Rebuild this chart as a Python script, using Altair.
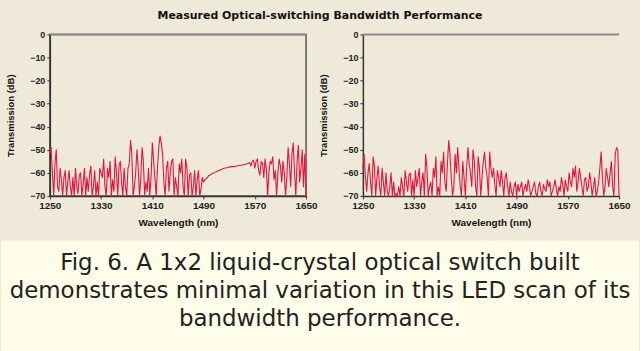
import altair as alt
import pandas as pd

wavelength = list(range(1250, 1651, 2))

left_db = [-52, -49, -60, -70, -56, -50, -66, -68, -58, -63, -70, -62, -59, -70, -64, -59, -66, -70, -62, -70, -58,
           -66, -69, -61, -60, -70, -65, -58, -70, -62, -68, -61, -57, -70, -66, -59, -70, -64, -70, -58, -60,
           -62, -54, -66, -70, -58, -62, -55, -70, -63, -68, -53, -60, -70, -57, -55, -64, -70, -58, -66, -70,
           -58, -56, -46, -52, -70, -66, -60, -50, -58, -70, -62, -49, -55, -70, -64, -68, -58, -70, -62, -47,
           -55, -62, -70, -58, -49, -44, -47, -52, -64, -70, -58, -55, -68, -60, -55, -54, -70, -62, -66, -70,
           -56, -60, -54, -66, -70, -54, -58, -70, -61, -60, -70, -66, -59, -70, -63, -59, -70, -67, -62, -64,
           -63, -62.5, -62, -61.2, -61, -60.5, -60.3, -60, -59.6, -59.5, -59.2, -58.9, -58.8, -58.5, -58.2, -58, -57.9, -57.8, -57.6, -57.5,
           -57.4, -57.3, -57.3, -57.2, -57.1, -57, -56.9, -56.8, -56.8, -56.6, -56.5, -56.4, -56.3, -56, -55.8, -55.5, -57, -55, -54.5, -58,
           -55, -54, -59, -61, -55, -56, -62, -54, -58, -70, -60, -55, -56, -53, -63, -59, -70, -60, -54, -57,
           -64, -55, -60, -70, -62, -49, -56, -66, -52, -47, -60, -70, -55, -48, -64, -58, -50, -66, -52, -70]

right_db = [-58, -52, -62, -68, -60, -56, -64, -70, -53, -57, -70, -62, -57, -66, -70, -58, -64, -70, -60, -68, -70,
            -66, -60, -70, -64, -70, -69, -70, -66, -70, -62, -66, -70, -59, -64, -68, -61, -60, -70, -63, -70,
            -59, -66, -62, -58, -70, -64, -60, -70, -52, -58, -70, -66, -64, -70, -58, -62, -53, -70, -66, -70,
            -55, -60, -51, -64, -68, -56, -46, -52, -62, -70, -66, -52, -60, -49, -58, -66, -70, -55, -62, -70,
            -58, -49, -56, -60, -66, -50, -55, -66, -70, -53, -58, -70, -62, -55, -51, -58, -62, -70, -51, -58,
            -62, -58, -65, -70, -59, -62, -66, -59, -64, -70, -62, -60, -66, -70, -64, -68, -70, -66, -64, -70,
            -65, -68, -66, -64, -70, -67, -65, -68, -63, -66, -70, -68, -66, -64, -69, -70, -66, -64, -68, -70,
            -65, -67, -68, -63, -66, -64, -70, -68, -66, -63, -67, -70, -66, -68, -62, -65, -70, -63, -66, -68,
            -60, -64, -66, -58, -62, -57, -68, -64, -58, -62, -66, -70, -63, -62, -68, -66, -60, -64, -70, -66,
            -62, -70, -68, -64, -58, -51, -62, -70, -66, -58, -62, -66, -60, -55, -66, -70, -52, -49, -50, -70]

x_ticks = [1250, 1330, 1410, 1490, 1570, 1650]
y_ticks = [0, -10, -20, -30, -40, -50, -60, -70]
top_edge = [0]

title_text = "Measured Optical-switching Bandwidth Performance"
caption_lines = [
    "Fig. 6. A 1x2 liquid-crystal optical switch built",
    "demonstrates minimal variation in this LED scan of its",
    "bandwidth performance.",
]

BG = "#efe9d9"
CAP_BG = "#fdfde9"
LINE = "#e5143d"
AXF = "Liberation Sans"
LEFT_EXT = 49


def panel(values, left):
    df = pd.DataFrame({"wl": wavelength, "db": values})
    xaxis = alt.Axis(values=x_ticks, title="Wavelength (nm)", labelFlush=False,
                     grid=False, tickSize=3, format="d", labelFont=AXF,
                     labelFontSize=10, labelFontWeight="bold", labelColor="#222",
                     titleFont=AXF, titleFontSize=10, titleFontWeight="bold",
                     titleColor="#111", titlePadding=7, domainColor="#333",
                     domainWidth=1.5, tickColor="#333", labelPadding=2,
                     labelOverlap=False)
    yaxis = alt.Axis(values=y_ticks, title="Transmission (dB)", grid=False,
                     tickSize=3, format="d", labelFont=AXF, labelFontSize=9,
                     labelFontWeight="bold", labelColor="#222", titleFont=AXF,
                     titleFontSize=9.5, titleFontWeight="bold", titleColor="#111",
                     titlePadding=14, domainColor="#333", domainWidth=1.5,
                     tickColor="#333", labelPadding=2, labelOverlap=False,
                     labelBound=False)
    yscale = alt.Scale(domain=[-70, 0], nice=False)
    line = alt.Chart(df).mark_line(color=LINE, strokeWidth=1.1, strokeJoin="round").encode(
        x=alt.X("wl:Q", scale=alt.Scale(domain=[1250, 1650], nice=False, zero=False), axis=xaxis),
        y=alt.Y("db:Q", scale=yscale, axis=yaxis),
    )
    top = alt.Chart(pd.DataFrame({"db": top_edge})).mark_rule(color="#8c8c8c", strokeWidth=2).encode(
        y=alt.Y("db:Q", scale=yscale, axis=yaxis)
    )
    view = alt.ViewBackground(stroke="#555", strokeWidth=1.5) if left else alt.ViewBackground(stroke="transparent")
    return alt.layer(line, top).properties(width=257, height=162, view=view)


left_panel = panel(left_db, True)
right_panel = panel(right_db, False)

cap_df = pd.DataFrame({"row": [0, 1, 2], "text": caption_lines})
CAP_W = 640 - LEFT_EXT
CAP_H = 111
band = alt.Chart(pd.DataFrame({"b": [0]})).mark_rect(fill=CAP_BG, stroke="transparent").encode(
    x=alt.value(-LEFT_EXT), x2=alt.value(CAP_W), y=alt.value(0), y2=alt.value(CAP_H)
)
caption_text = alt.Chart(cap_df).mark_text(font="DejaVu Sans", fontSize=23, color="#222",
                                           align="center", baseline="middle").encode(
    x=alt.value(320 - LEFT_EXT),
    y=alt.Y("row:Q", scale=alt.Scale(domain=[-0.786, 3.179], reverse=True), axis=None),
    text="text:N",
)
caption = alt.layer(band, caption_text).properties(
    width=CAP_W, height=CAP_H, view=alt.ViewBackground(stroke="transparent")
)

top_row = alt.hconcat(left_panel, right_panel, spacing=0)

chart = alt.vconcat(top_row, caption, spacing=11).properties(
    title=alt.TitleParams(title_text, font="DejaVu Sans", fontSize=11, fontWeight="bold",
                          color="#111", anchor="middle", offset=9),
    padding={"left": 0, "top": 9, "right": 0, "bottom": 0},
    background=BG,
).configure_view(strokeWidth=0)

chart.save("out.html", embed_options={"renderer": "svg", "actions": False})
